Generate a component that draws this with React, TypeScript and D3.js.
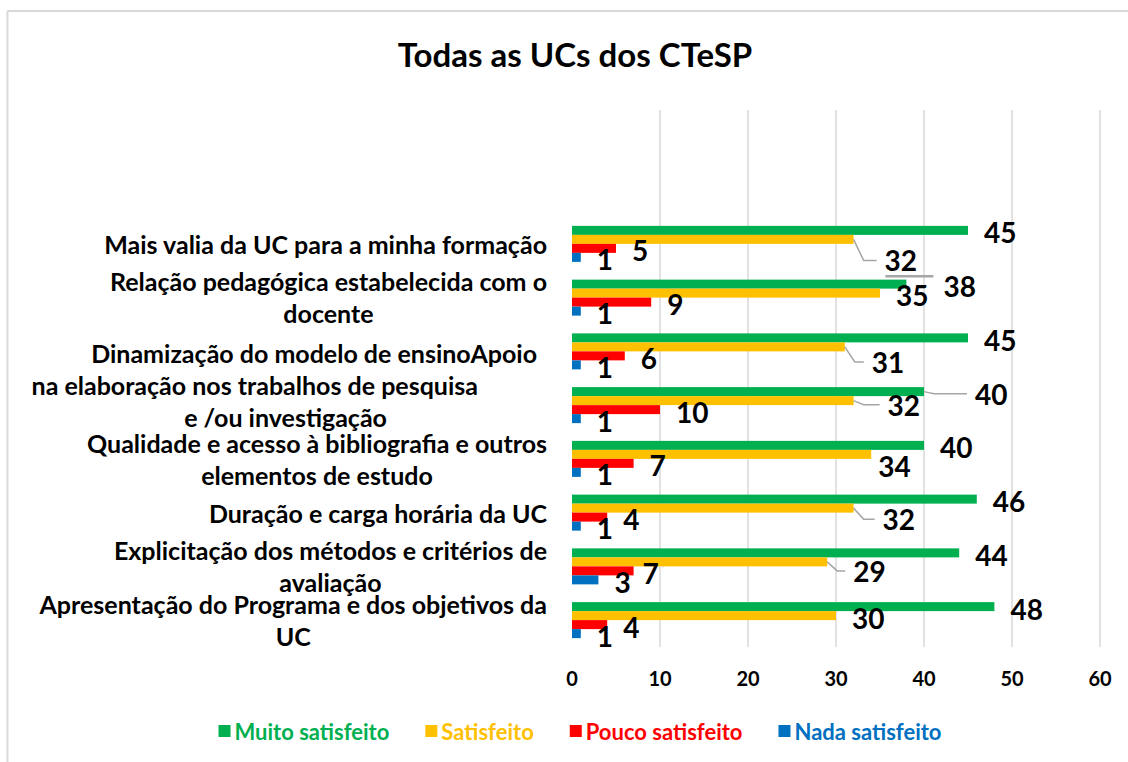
import React, { useEffect, useRef } from "react";
import * as d3 from "d3";

const categories = [
  "Mais valia da UC para a minha formação",
  "Relação pedagógica estabelecida com o docente",
  "Dinamização do modelo de ensino",
  "Apoio na elaboração nos trabalhos de pesquisa e /ou investigação",
  "Qualidade e acesso à bibliografia e outros elementos de estudo",
  "Duração e carga horária da UC",
  "Explicitação dos métodos e critérios de avaliação",
  "Apresentação do Programa e dos objetivos da UC",
];

// wrapped axis text as it shows in the original (3rd and 4th run together)
const categoryLines = [
  ["Mais valia da UC para a minha formação"],
  ["Relação pedagógica estabelecida com o", "docente"],
  ["Dinamização do modelo de ensinoApoio", "na elaboração nos trabalhos de pesquisa", "e /ou investigação"],
  [],
  ["Qualidade e acesso à bibliografia e outros", "elementos de estudo"],
  ["Duração e carga horária da UC"],
  ["Explicitação dos métodos e critérios de", "avaliação"],
  ["Apresentação do Programa e dos objetivos da", "UC"],
];

const seriesNames = ["Muito satisfeito", "Satisfeito", "Pouco satisfeito", "Nada satisfeito"];
const muitoSatisfeito = [45, 38, 45, 40, 40, 46, 44, 48];
const satisfeito = [32, 35, 31, 32, 34, 32, 29, 30];
const poucoSatisfeito = [5, 9, 6, 10, 7, 4, 7, 4];
const nadaSatisfeito = [1, 1, 1, 1, 1, 1, 3, 1];
const xTicks = [0, 10, 20, 30, 40, 50, 60];

const colors = ["#00B050", "#FFC000", "#FF0000", "#0070C0"];
const font = "Lato, 'Open Sans', sans-serif";

// hand-moved data labels (key: category-series), like in the Excel file
const labelNudge = {
  "0-1": { dx: 15, dy: 19, leader: "elbow" },
  "1-0": { dx: 21, dy: 0, leader: "over" },
  "2-1": { dx: 11, dy: 13, leader: "elbow" },
  "3-0": { dx: 35, dy: 0, leader: "elbow" },
  "3-1": { dx: 18, dy: 2, leader: "elbow" },
  "4-1": { dx: -9, dy: 10 },
  "5-1": { dx: 13, dy: 9, leader: "elbow" },
  "6-1": { dx: 10, dy: 7, leader: "elbow" },
  "6-2": { dx: -7, dy: 0 },
};

const App = () => {
  const ref = useRef(null);

  useEffect(() => {
    const svg = d3.select(ref.current);
    svg.selectAll("*").remove();

    const width = 1128;
    const height = 762;
    const plotLeft = 572;
    const plotRight = 1100;
    const plotTop = 110;
    const plotBottom = 647;

    const series = [muitoSatisfeito, satisfeito, poucoSatisfeito, nadaSatisfeito];

    svg.attr("width", width).attr("height", height);

    svg.append("rect").attr("width", width).attr("height", height).attr("fill", "#fff");

    // chart frame (only top and left edges are in view)
    svg.append("line").attr("x1", 7).attr("x2", width).attr("y1", 11).attr("y2", 11)
      .attr("stroke", "#d9d9d9").attr("stroke-width", 2);
    svg.append("line").attr("x1", 7.5).attr("x2", 7.5).attr("y1", 11).attr("y2", height)
      .attr("stroke", "#d9d9d9").attr("stroke-width", 2);

    svg.append("text")
      .attr("x", 575).attr("y", 67)
      .attr("text-anchor", "middle")
      .style("font-family", font).style("font-weight", "bold").style("font-size", "33px")
      .attr("fill", "#000")
      .text("Todas as UCs dos CTeSP");

    const x = d3.scaleLinear().domain([0, 60]).range([plotLeft, plotRight]);

    const y = d3.scaleBand()
      .domain(categories.map((d, i) => String(i)))
      .range([217, plotBottom])
      .padding(0);

    const barH = 9;
    const ySub = d3.scaleBand()
      .domain(seriesNames)
      .range([(y.bandwidth() - barH * 4) / 2, (y.bandwidth() + barH * 4) / 2]);

    // gridlines
    svg.append("g").selectAll("line")
      .data(xTicks.filter((t) => t > 0))
      .enter().append("line")
      .attr("x1", (d) => x(d)).attr("x2", (d) => x(d))
      .attr("y1", plotTop).attr("y2", plotBottom)
      .attr("stroke", "#d9d9d9").attr("stroke-width", 1.5);

    // x tick labels
    svg.append("g").selectAll("text")
      .data(xTicks)
      .enter().append("text")
      .attr("x", (d) => x(d)).attr("y", 678)
      .attr("text-anchor", "middle").attr("dominant-baseline", "central")
      .style("font-family", font).style("font-weight", "bold").style("font-size", "20px")
      .text((d) => d);

    const groups = svg.append("g").selectAll("g")
      .data(categories)
      .enter().append("g")
      .attr("transform", (d, i) => `translate(0,${y(String(i))})`);

    seriesNames.forEach((name, s) => {
      groups.append("rect")
        .attr("x", plotLeft)
        .attr("y", ySub(name))
        .attr("width", (d, i) => x(series[s][i]) - plotLeft)
        .attr("height", ySub.bandwidth())
        .attr("fill", colors[s]);
    });

    // data labels + leader lines
    const labels = svg.append("g");
    categories.forEach((c, i) => {
      seriesNames.forEach((name, s) => {
        const v = series[s][i];
        const barMid = y(String(i)) + ySub(name) + ySub.bandwidth() / 2;
        const n = labelNudge[`${i}-${s}`] || { dx: 0, dy: 0 };
        const lx = x(v) + 16 + n.dx;
        const ly = barMid + 2 + n.dy;
        if (n.leader === "elbow") {
          labels.append("polyline")
            .attr("points", [[x(v), barMid], [x(v) + 10, ly], [lx - 8, ly]].map((p) => p.join(",")).join(" "))
            .attr("fill", "none").attr("stroke", "#a6a6a6").attr("stroke-width", 1.5);
        } else if (n.leader === "over") {
          labels.append("line")
            .attr("x1", lx - 58).attr("x2", lx - 10).attr("y1", ly - 10).attr("y2", ly - 10)
            .attr("stroke", "#a6a6a6").attr("stroke-width", 2.5);
        }
        labels.append("text")
          .attr("x", lx).attr("y", ly)
          .attr("dominant-baseline", "central")
          .style("font-family", font).style("font-weight", "bold").style("font-size", "28px")
          .attr("fill", "#000")
          .text(v);
      });
    });

    // category labels: block right-aligned, lines centred in the block
    const blockRight = 547;
    const lineGap = 32;
    const blockDy = [0, -1, 34, 0, 0, 0, 0, 0];
    // the run-together block is laid out ragged in the original
    const raggedRight = { 2: [-10, -69, -160] };
    const catG = svg.append("g");
    categoryLines.forEach((lines, i) => {
      if (!lines.length) return;
      const cy = y(String(i)) + y.bandwidth() / 2 + blockDy[i];
      const nodes = lines.map((t, j) =>
        catG.append("text")
          .attr("y", cy + (j - (lines.length - 1) / 2) * lineGap)
          .attr("dominant-baseline", "central")
          .style("font-family", font).style("font-weight", "bold").style("font-size", "25px")
          .attr("fill", "#000")
          .text(t)
      );
      const widths = nodes.map((nd) => nd.node().getComputedTextLength());
      const maxW = d3.max(widths);
      nodes.forEach((nd, j) => {
        if (raggedRight[i]) {
          nd.attr("text-anchor", "end").attr("x", blockRight + raggedRight[i][j]);
        } else {
          nd.attr("text-anchor", "middle").attr("x", blockRight - maxW / 2);
        }
      });
    });

    // legend
    const legend = svg.append("g");
    const sq = 12;
    const gap = 36;
    let cursor = 0;
    const items = seriesNames.map((name, s) => {
      const g = legend.append("g");
      g.append("rect").attr("width", sq).attr("height", sq).attr("y", -sq / 2).attr("fill", colors[s]);
      const t = g.append("text")
        .attr("x", sq + 4).attr("dominant-baseline", "central")
        .style("font-family", font).style("font-weight", "bold").style("font-size", "22px")
        .attr("fill", colors[s])
        .text(name);
      const w = sq + 4 + t.node().getComputedTextLength();
      const item = { g, x: cursor };
      cursor += w + gap;
      return item;
    });
    const total = cursor - gap;
    const startX = 580 - total / 2;
    items.forEach((it) => it.g.attr("transform", `translate(${startX + it.x},731)`));
  }, []);

  return (
    <div style={{ position: "absolute", left: 0, top: 0 }}>
      <svg ref={ref} style={{ display: "block" }}></svg>
    </div>
  );
};

export default App;
